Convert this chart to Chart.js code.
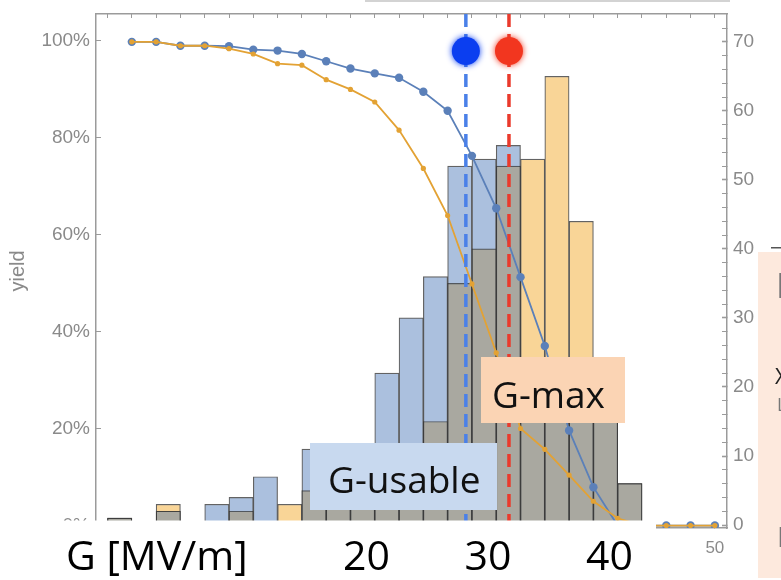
<!DOCTYPE html>
<html>
<head>
<meta charset="utf-8">
<script src="https://cdn.jsdelivr.net/npm/chart.js@4.4.1/dist/chart.umd.min.js"></script>
<style>
  html, body { margin: 0; padding: 0; background: #fff; }
</style>
</head>
<body>
<canvas id="yieldChart" width="781" height="580"></canvas>
<script>
// histogram bins are 2 MV/m wide, listed by their centres
const binCenters = [1, 3, 5, 7, 9, 11, 13, 15, 17, 19, 21, 23, 25, 27, 29, 31, 33, 35, 37, 39, 41, 43];
const usableCounts = [1, 0, 2, 0, 3, 4, 7, 0, 11, 9, 11, 22, 30, 36, 52, 53, 55, 20, 19, 18, 17, 6];
const maxCounts    = [1, 0, 3, 0, 0, 2, 0, 3, 5, 6, 8, 9, 10, 15, 35, 40, 52, 53, 65, 44, 20, 6];

// cumulative yield curves (percent of cavities reaching G)
const yieldGradient = [2, 4, 6, 8, 10, 12, 14, 16, 18, 20, 22, 24, 26, 28, 30, 32, 34, 36, 38, 40, 42, 44, 46, 48, 50];
const usableYield = [99.7, 99.7, 98.9, 98.9, 98.8, 98.1, 97.9, 97.2, 95.7, 94.2, 93.2, 92.3, 89.4, 85.5, 76.2, 65.4, 51.2, 37.0, 19.6, 7.9, 0, 0, 0, 0, 0];
const maxYield    = [99.7, 99.7, 98.9, 98.9, 98.3, 97.2, 95.2, 94.9, 91.9, 89.9, 87.3, 81.5, 73.6, 63.9, 49.8, 35.6, 20.0, 15.7, 10.4, 5.0, 1.5, 0, 0, 0, 0];

// median gradients marked with the dashed lines
const gUsable = 29.5;
const gMax = 33.05;
const markerLevel = 97.8;

const pctTicks = [0, 20, 40, 60, 80, 100];
const countTicks = [0, 10, 20, 30, 40, 50, 60, 70];
const gradientTicks = [0, 10, 20, 30, 40, 50];
const bigGradientLabels = [20, 30, 40];

const overlapCounts = usableCounts.map((c, i) => Math.min(c, maxCounts[i]));
const toXY = (xs, ys) => xs.map((x, i) => ({ x: x, y: ys[i] }));

const X_MIN = -0.95, X_MAX = 51.0;
const PCT_MIN = -0.51, PCT_MAX = 105.44;
const CNT_MIN = -0.43, CNT_MAX = 74.03;

const axisGray = '#9b9b9b';
const labelGray = '#8a8a8a';

Chart.defaults.font.family = '"Liberation Sans", Arial, sans-serif';

const noPad = s => { s.paddingTop = 0; s.paddingBottom = 0; s.paddingLeft = 0; s.paddingRight = 0; };

const barCommon = {
  type: 'bar',
  yAxisID: 'y2',
  grouped: false,
  barPercentage: 1,
  categoryPercentage: 1,
  borderWidth: 1.2,
  borderColor: 'rgba(60,60,60,0.8)',
  clip: 0
};

// soft halo round the two marker dots
const glowPlugin = {
  id: 'glow',
  beforeDatasetDraw(chart, args) {
    const ds = chart.data.datasets[args.index];
    if (!ds.glow) return;
    chart.ctx.save();
    chart.ctx.shadowColor = ds.backgroundColor;
    chart.ctx.shadowBlur = 6;
  },
  afterDatasetDraw(chart, args) {
    const ds = chart.data.datasets[args.index];
    if (ds.glow) chart.ctx.restore();
  }
};

const overlayPlugin = {
  id: 'overlay',
  afterDraw(chart) {
    const ctx = chart.ctx;
    const xs = chart.scales.x;
    ctx.save();

    // strip of page that hides the original axis labels
    ctx.fillStyle = '#fff';
    ctx.fillRect(0, 520.5, 656, 60);

    ctx.fillStyle = '#000';
    ctx.font = '41px "Open Sans", sans-serif';
    ctx.textBaseline = 'alphabetic';
    ctx.textAlign = 'left';
    ctx.fillText('G [MV/m]', 66, 570);
    ctx.textAlign = 'center';
    bigGradientLabels.forEach(v => {
      ctx.fillText(String(v), xs.getPixelForValue(v) + 16, 570);
    });

    // G-usable label
    ctx.fillStyle = '#c8d9ef';
    ctx.fillRect(310, 443, 187, 67);
    ctx.fillStyle = '#111';
    ctx.font = '37px "Open Sans", sans-serif';
    ctx.textAlign = 'left';
    ctx.fillText('G-usable', 328, 493);

    // G-max label
    ctx.fillStyle = '#fbd4b4';
    ctx.fillRect(481, 357, 144, 66);
    ctx.fillStyle = '#111';
    ctx.fillText('G-max', 492, 408);

    // edge of the neighbouring text panel
    ctx.fillStyle = '#fde9dd';
    ctx.fillRect(758, 252, 23, 326);
    ctx.fillStyle = '#555';
    ctx.fillRect(771, 247, 10, 1.5);
    ctx.font = '34px "Open Sans", sans-serif';
    ctx.fillStyle = '#777';
    ctx.fillText('E', 776, 298);
    ctx.fillStyle = '#222';
    ctx.font = '22px "Open Sans", sans-serif';
    ctx.fillText('X', 775, 384);
    ctx.fillStyle = '#777';
    ctx.font = '18px "Open Sans", sans-serif';
    ctx.fillText('L', 777, 411);
    ctx.font = '28px "Open Sans", sans-serif';
    ctx.fillText('L', 777, 547);

    // frame of the box above the plot
    ctx.strokeStyle = '#c4c4c4';
    ctx.lineWidth = 1.5;
    ctx.beginPath();
    ctx.moveTo(365, 1);
    ctx.lineTo(730, 1);
    ctx.stroke();

    ctx.restore();
  }
};

new Chart(document.getElementById('yieldChart'), {
  data: {
    datasets: [
      {
        type: 'scatter', label: 'G-usable marker', glow: true, order: 0,
        data: [{ x: gUsable, y: markerLevel }],
        backgroundColor: '#0b3ef0', pointRadius: 14, pointBorderWidth: 0
      },
      {
        type: 'scatter', label: 'G-max marker', glow: true, order: 0,
        data: [{ x: gMax, y: markerLevel }],
        backgroundColor: '#f2361f', pointRadius: 14, pointBorderWidth: 0
      },
      {
        type: 'line', label: 'G-usable median', order: 1, clip: 0,
        data: [{ x: gUsable, y: PCT_MAX }, { x: gUsable, y: PCT_MIN }],
        borderColor: '#4a80e8', borderWidth: 3.5, borderDash: [13, 7], pointRadius: 0
      },
      {
        type: 'line', label: 'G-max median', order: 1, clip: 0,
        data: [{ x: gMax, y: PCT_MAX }, { x: gMax, y: PCT_MIN }],
        borderColor: '#ea3a2c', borderWidth: 3.5, borderDash: [13, 7], pointRadius: 0
      },
      {
        type: 'line', label: 'max yield', order: 2,
        data: toXY(yieldGradient, maxYield),
        borderColor: '#e3a234', backgroundColor: '#e3a234',
        borderWidth: 1.8, pointRadius: 2.6, pointBorderWidth: 0, tension: 0
      },
      {
        type: 'line', label: 'usable yield', order: 3,
        data: toXY(yieldGradient, usableYield),
        borderColor: '#5b80b9', backgroundColor: '#5b80b9',
        borderWidth: 1.8, pointRadius: 4.2, pointBorderWidth: 0, tension: 0
      },
      Object.assign({}, barCommon, {
        label: 'both', order: 4,
        data: toXY(binCenters, overlapCounts),
        backgroundColor: '#a9a8a0'
      }),
      Object.assign({}, barCommon, {
        label: 'G-usable', order: 5,
        data: toXY(binCenters, usableCounts),
        backgroundColor: '#abc0de'
      }),
      Object.assign({}, barCommon, {
        label: 'G-max', order: 6,
        data: toXY(binCenters, maxCounts),
        backgroundColor: '#f9d597'
      })
    ]
  },
  options: {
    responsive: false,
    animation: false,
    devicePixelRatio: 1,
    layout: { padding: 0 },
    plugins: { legend: { display: false }, tooltip: { enabled: false } },
    scales: {
      x: {
        type: 'linear', position: 'bottom', min: X_MIN, max: X_MAX, offset: false,
        afterBuildTicks: s => { s.ticks = gradientTicks.map(v => ({ value: v })); },
        afterFit: s => { s.height = 52; noPad(s); },
        ticks: { color: labelGray, font: { size: 17 }, padding: 15, maxRotation: 0, autoSkip: false },
        grid: { drawOnChartArea: false, tickLength: -5, color: axisGray, offset: false },
        border: { color: axisGray, width: 1.5 }
      },
      xTop: {
        type: 'linear', position: 'top', min: X_MIN, max: X_MAX, offset: false,
        afterBuildTicks: s => {
          const t = [];
          for (let v = 0; v <= 50; v += 2) t.push({ value: v });
          s.ticks = t;
        },
        afterFit: s => { s.height = 12; noPad(s); },
        ticks: { display: false, autoSkip: false },
        grid: { drawOnChartArea: false, tickLength: -4, color: axisGray, offset: false },
        border: { color: axisGray, width: 1.5 }
      },
      y: {
        type: 'linear', position: 'left', min: PCT_MIN, max: PCT_MAX,
        afterBuildTicks: s => { s.ticks = pctTicks.map(v => ({ value: v })); },
        afterFit: s => { s.width = 96; noPad(s); },
        ticks: { color: labelGray, font: { size: 19 }, padding: 11, autoSkip: false, callback: v => v + '%' },
        grid: { drawOnChartArea: false, tickLength: -5, color: axisGray },
        border: { color: axisGray, width: 1.5 },
        title: { display: true, text: 'yield', color: labelGray, font: { size: 20 }, padding: { top: 6, bottom: 0 } }
      },
      y2: {
        type: 'linear', position: 'right', min: CNT_MIN, max: CNT_MAX,
        afterBuildTicks: s => {
          const t = [];
          for (let v = 0; v <= 72; v += 2) t.push({ value: v });
          s.ticks = t;
        },
        afterFit: s => { s.width = 54; noPad(s); },
        ticks: {
          color: labelGray, font: { size: 19 }, padding: 11, autoSkip: false,
          callback: v => (countTicks.includes(v) ? String(v) : '')
        },
        grid: {
          drawOnChartArea: false, tickLength: -5, color: axisGray,
          tickWidth: c => (c.tick && countTicks.includes(c.tick.value) ? 1.6 : 1)
        },
        border: { color: axisGray, width: 1.5 }
      }
    }
  },
  plugins: [glowPlugin, overlayPlugin]
});
</script>
</body>
</html>
